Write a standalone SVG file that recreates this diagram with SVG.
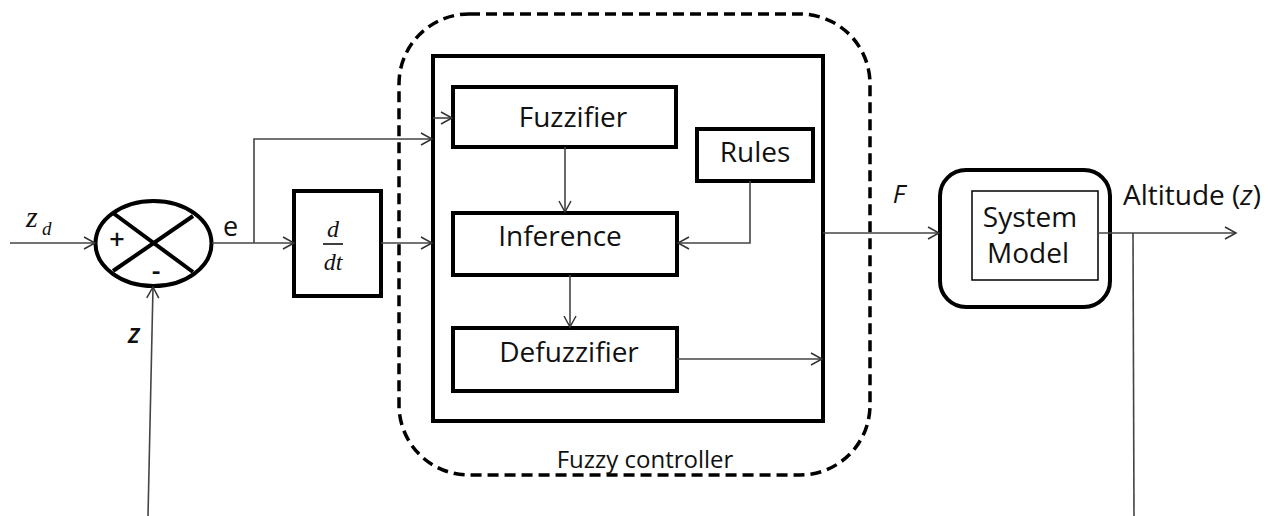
<svg xmlns="http://www.w3.org/2000/svg" width="1271" height="516" viewBox="0 0 1271 516">
<defs>
<marker id="arr" markerWidth="14" markerHeight="14" refX="12" refY="7" orient="auto" markerUnits="userSpaceOnUse">
<polyline points="1,1 12,7 1,13" fill="none" stroke="#333" stroke-width="1.5"/>
</marker>
</defs>
<style>
.c{fill:none;stroke:#444;stroke-width:1.6}
.b{fill:#fff;stroke:#000;stroke-width:4}
.t{font-family:"Open Sans","Noto Sans",sans-serif;font-size:28px;fill:#111}
.s{font-family:"Liberation Serif",serif;font-style:italic;fill:#111}
</style>
<rect width="1271" height="516" fill="#fff"/>

<g id="fuzzy-controller">
<rect x="399" y="14" width="471" height="461" rx="70" ry="70" fill="none" stroke="#000" stroke-width="3.5" stroke-dasharray="11,6"/>
<text class="t" x="645" y="468" text-anchor="middle" style="font-size:24px">Fuzzy controller</text>
</g>
<g id="inner-box">
<rect x="433" y="56" width="390" height="365" fill="#fff" stroke="#000" stroke-width="4"/>
</g>

<g id="summing-junction">
<ellipse cx="153.5" cy="243.5" rx="58" ry="42.5" fill="#fff" stroke="#000" stroke-width="4"/>
<line x1="113" y1="213" x2="193" y2="272" stroke="#000" stroke-width="4"/>
<line x1="193" y1="216" x2="113" y2="271" stroke="#000" stroke-width="4"/>
<text class="t" x="117" y="249" text-anchor="middle" style="font-size:27px;font-weight:600">+</text>
<text class="t" x="156" y="280" text-anchor="middle" style="font-size:27px;font-weight:600">-</text>
</g>

<g id="derivative">
<rect class="b" x="294" y="191" width="87" height="105"/>
<text class="s" x="333" y="237" text-anchor="middle" style="font-size:24px">d</text>
<line x1="323" y1="244" x2="343" y2="244" stroke="#000" stroke-width="1.5"/>
<text class="s" x="333" y="270" text-anchor="middle" style="font-size:24px">dt</text>
</g>

<g id="fuzzifier">
<rect class="b" x="453" y="87" width="223" height="60"/>
<text class="t" x="573" y="127" text-anchor="middle">Fuzzifier</text>
</g>
<g id="rules">
<rect class="b" x="697" y="129" width="116" height="52"/>
<text class="t" x="755" y="162" text-anchor="middle">Rules</text>
</g>
<g id="inference">
<rect class="b" x="453" y="213" width="224" height="62"/>
<text class="t" x="560" y="246" text-anchor="middle">Inference</text>
</g>
<g id="defuzzifier">
<rect class="b" x="453" y="328" width="224" height="63"/>
<text class="t" x="569" y="362" text-anchor="middle">Defuzzifier</text>
</g>

<g id="system-model">
<rect x="940" y="170" width="170" height="137" rx="26" ry="26" fill="#fff" stroke="#000" stroke-width="4"/>
<rect x="972" y="191" width="126" height="89" fill="#fff" stroke="#000" stroke-width="1.5"/>
<text class="t" x="1030" y="227" text-anchor="middle">System</text>
<text class="t" x="1028" y="263" text-anchor="middle">Model</text>
</g>

<g id="connectors">
<line class="c" x1="10" y1="243" x2="95" y2="243" marker-end="url(#arr)"/>
<line class="c" x1="212" y1="243" x2="294" y2="243" marker-end="url(#arr)"/>
<polyline class="c" points="254,243 254,139 432,139" marker-end="url(#arr)"/>
<line class="c" x1="433" y1="118" x2="452" y2="118" marker-end="url(#arr)"/>
<line class="c" x1="381" y1="243" x2="432" y2="243" marker-end="url(#arr)"/>
<line class="c" x1="565" y1="147" x2="565" y2="212" marker-end="url(#arr)"/>
<polyline class="c" points="750,181 750,243 678,243" marker-end="url(#arr)"/>
<line class="c" x1="570" y1="275" x2="570" y2="327" marker-end="url(#arr)"/>
<line class="c" x1="677" y1="359" x2="822" y2="359" marker-end="url(#arr)"/>
<line class="c" x1="823" y1="233" x2="939" y2="233" marker-end="url(#arr)"/>
<line class="c" x1="1098" y1="233" x2="1236" y2="233" marker-end="url(#arr)"/>
<line class="c" x1="1133" y1="233" x2="1134" y2="516"/>
<line class="c" x1="148" y1="516" x2="153" y2="287" marker-end="url(#arr)"/>
</g>

<g id="labels">
<text class="s" x="26" y="227" style="font-size:30px">z</text>
<text class="s" x="42" y="235" style="font-size:19px">d</text>
<text class="t" x="230.5" y="236" text-anchor="middle" style="font-size:27px">e</text>
<text class="t" x="134" y="343" text-anchor="middle" style="font-size:27px;font-style:italic;font-weight:600">z</text>
<text class="t" x="899" y="203" text-anchor="middle" style="font-size:26px;font-style:italic">F</text>
<text class="t" x="1123" y="205">Altitude (<tspan style="font-style:italic">z</tspan>)</text>
</g>
</svg>
